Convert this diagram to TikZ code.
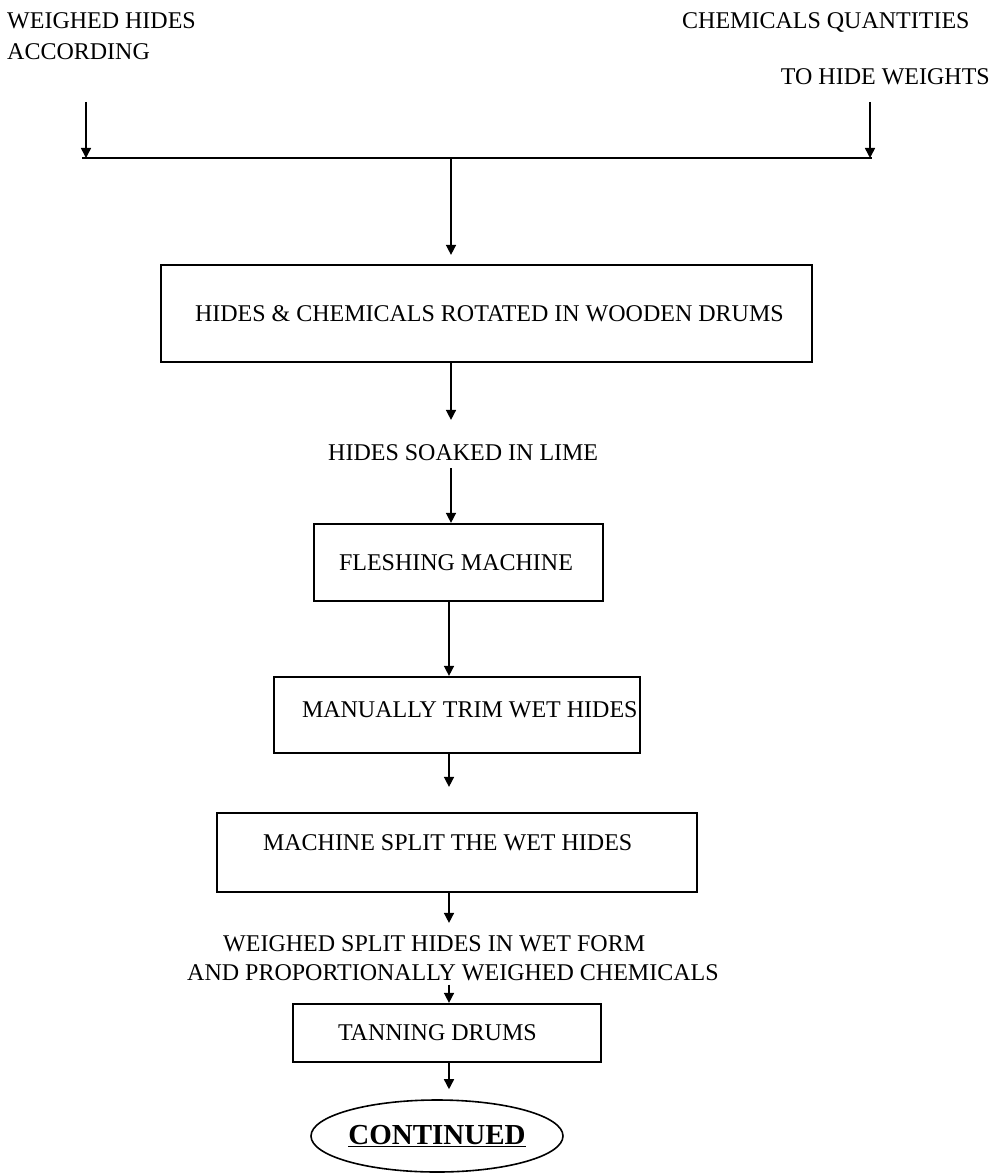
\documentclass[tikz,border=0pt]{standalone}
\usepackage{fontspec}
\setmainfont{Liberation Serif}
\usetikzlibrary{arrows.meta,shapes.geometric}
\newcommand\flowtxt[3]{\makebox[#1pt][l]{\hspace*{#2pt}#3}}
\begin{document}
\begin{tikzpicture}[x=1pt,y=1pt,
  txt/.style={inner sep=0pt,font=\fontsize{24}{29}\selectfont},
  stepbox/.style={draw,line width=2.2pt,inner sep=0pt,font=\fontsize{24}{29}\selectfont},
  arr/.style={line width=1.5pt,-{Triangle[length=10pt,width=10pt]}},
  endoval/.style={draw,ellipse,line width=1.6pt,inner sep=0pt,font=\bfseries\fontsize{29}{34}\selectfont},
]
\useasboundingbox (0,0) rectangle (994,-1174);
% top texts
\node[txt,anchor=base west] (t1) at (7,-29) {WEIGHED HIDES};
\node[txt,anchor=base west] (t2) at (7,-60) {ACCORDING};
\node[txt,anchor=base west] (t3) at (682,-29) {CHEMICALS QUANTITIES};
\node[txt,anchor=base east] (t4) at (990,-85) {TO HIDE WEIGHTS};
% collector
\coordinate (la) at (86,-102); \coordinate (lb) at (86,-158);
\coordinate (ra) at (870,-102); \coordinate (rb) at (870,-158);
\coordinate (hl) at (82,-158); \coordinate (hr) at (872,-158);
\coordinate (hc) at (451,-158);
\coordinate (ax) at (449,0);
% boxes and texts
\node[stepbox,minimum height=97pt] (b1) at (486.5,-313.5)
  {\flowtxt{651}{34}{HIDES \& CHEMICALS ROTATED IN WOODEN DRUMS}};
\node[txt,anchor=base west] (lime) at (328,-460) {HIDES SOAKED IN LIME};
\node[stepbox,minimum height=77pt] (b2) at (458.5,-562.5)
  {\flowtxt{289}{25}{FLESHING MACHINE}};
\node[stepbox,minimum height=76pt,text depth=10pt] (b3) at (457,-715)
  {\flowtxt{366}{28}{MANUALLY TRIM WET HIDES}};
\node[stepbox,minimum height=79pt,text depth=19pt] (b4) at (457,-852.5)
  {\flowtxt{480}{46}{MACHINE SPLIT THE WET HIDES}};
\node[txt,anchor=base west] (w1) at (223,-951) {WEIGHED SPLIT HIDES IN WET FORM};
\node[txt,anchor=base west] (w2) at (187,-980) {AND PROPORTIONALLY WEIGHED CHEMICALS};
\node[stepbox,minimum height=58pt] (b5) at (447,-1033)
  {\flowtxt{308}{45}{TANNING DRUMS}};
\node[endoval,minimum width=252pt,minimum height=72pt] (e) at (437,-1136)
  {\underline{CONTINUED}};
% connectors
\draw[line width=2.5pt] (hl) -- (hr);
\draw[arr] (la) -- (lb);
\draw[arr] (ra) -- (rb);
\draw[arr,shorten >=9pt] (hc) -- (hc |- b1.north);
\draw[arr,shorten >=24pt] (hc |- b1.south) -- (hc |- lime.north);
\draw[arr,shorten <=8pt] (hc |- lime.south) -- (hc |- b2.north);
\draw[arr] (ax |- b2.south) -- (ax |- b3.north);
\draw[arr,shorten >=25pt] (ax |- b3.south) -- (ax |- b4.north);
\draw[arr,shorten >=12pt] (ax |- b4.south) -- (ax |- w1.north);
\draw[arr,shorten <=4pt] (ax |- w2.south) -- (ax |- b5.north);
\draw[arr,shorten >=10pt] (ax |- b5.south) -- (ax |- e.north);
\end{tikzpicture}
\end{document}
